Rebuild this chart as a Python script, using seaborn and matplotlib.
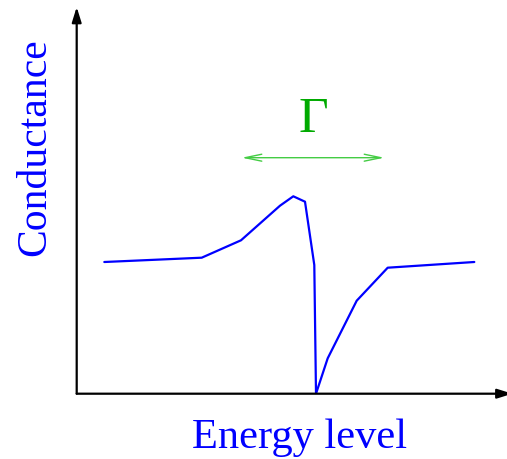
import matplotlib
matplotlib.use("Agg")
import matplotlib.pyplot as plt
import seaborn as sns
import pandas as pd

# Data (arbitrary units)
energy = [27.6, 125.0, 164.3, 203.3, 216.6, 228.3, 237.6, 239.3, 251.0, 280.0, 311.0, 397.6]
conductance = [131.7, 136.0, 153.4, 188.0, 197.4, 192.0, 128.7, 0.0, 35.4, 93.0, 126.0, 131.7]
gamma_span = [165.0, 307.6]
gamma_level = 236.0
x_label = "Energy level"
y_label = "Conductance"
gamma_text = "Γ"

sns.set_style("white")
plt.rcParams["font.family"] = ["Liberation Serif", "DejaVu Serif"]

fig = plt.figure(figsize=(5.07, 4.6), dpi=100)
ax = fig.add_axes([76.7 / 507, (460 - 394.7) / 460, (506 - 76.7) / 507, (394.7 - 8) / 460])

df = pd.DataFrame({"energy": energy, "conductance": conductance})
sns.lineplot(data=df, x="energy", y="conductance", ax=ax, color="#0000ff", lw=1.6, sort=False)

ax.set_xlim(0, 429.3)
ax.set_ylim(0, 386.7)
for s in ax.spines.values():
    s.set_visible(False)
ax.set_xticks([])
ax.set_yticks([])
ax.set_xlabel("")
ax.set_ylabel("")

# axes arrows
ax.annotate("", xy=(0, 1), xytext=(0, 0), xycoords="axes fraction",
            arrowprops=dict(arrowstyle="-|>,head_length=0.9,head_width=0.28", color="black", lw=1.6,
                            shrinkA=0, shrinkB=0), annotation_clip=False)
ax.annotate("", xy=(1.015, 0), xytext=(0, 0), xycoords="axes fraction",
            arrowprops=dict(arrowstyle="-|>,head_length=0.9,head_width=0.28", color="black", lw=1.6,
                            shrinkA=0, shrinkB=0), annotation_clip=False)

# Gamma width arrow
ax.annotate("", xy=(gamma_span[1], gamma_level), xytext=(gamma_span[0], gamma_level),
            arrowprops=dict(arrowstyle="<->,head_length=1.2,head_width=0.25", color="#44cc44", lw=1.0,
                            shrinkA=0, shrinkB=0))
ax.text(sum(gamma_span) / 2, 275, gamma_text, color="#00aa00", fontsize=37, ha="center", va="center")

fig.text(300 / 507, 1 - 438 / 460, x_label, color="#0000ff", fontsize=30.5, ha="center", va="center")
fig.text(35 / 507, 1 - 147 / 460, y_label, color="#0000ff", fontsize=30, ha="center", va="center",
         rotation=90)

fig.savefig("out.png", dpi=100)
